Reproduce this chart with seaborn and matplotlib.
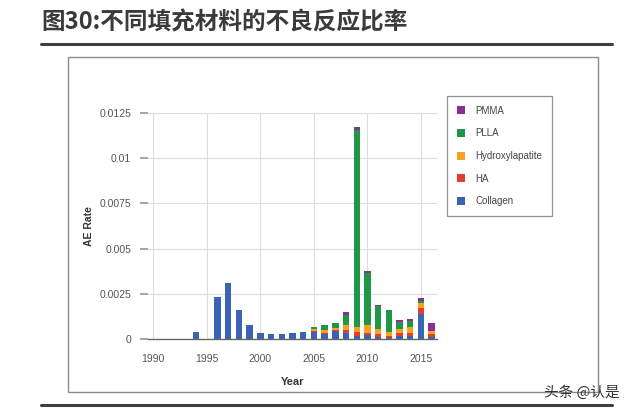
import numpy as np
import pandas as pd
import matplotlib
matplotlib.use("Agg")
import matplotlib.pyplot as plt
import seaborn as sns
from matplotlib.patches import Rectangle, Patch
from matplotlib.lines import Line2D

years = [1994, 1995, 1996, 1997, 1998, 1999, 2000, 2001, 2002, 2003, 2004, 2005,
         2006, 2007, 2008, 2009, 2010, 2011, 2012, 2013, 2014, 2015, 2016]
collagen = [0.00037, 0, 0.0023, 0.0031, 0.0016, 0.0008, 0.00035, 0.0003, 0.0003, 0.00035, 0.0004, 0.0004,
            0.0003, 0.00045, 0.00035, 0.00018, 0.0002, 0.0001, 0.00005, 0.00016, 0.00015, 0.0014, 0.0001]
ha = [0, 0, 0, 0, 0, 0, 0, 0, 0, 0, 0, 0.00005,
      0.00005, 0.00005, 0.00015, 0.00018, 0.00015, 0.00015, 0.0001, 0.00017, 0.00017, 0.0003, 0.0002]
hydroxylapatite = [0, 0, 0, 0, 0, 0, 0, 0, 0, 0, 0, 0.0001,
                   0.00015, 0.0001, 0.00025, 0.00028, 0.0004, 0.00028, 0.00025, 0.00022, 0.00033, 0.0003, 0.00017]
plla = [0, 0, 0, 0, 0, 0, 0, 0, 0, 0, 0, 0.00013,
        0.00027, 0.0003, 0.0006, 0.0109, 0.0029, 0.0013, 0.0012, 0.00039, 0.00033, 0.0001, 0]
pmma = [0, 0, 0, 0, 0, 0, 0, 0, 0, 0, 0, 0,
        0, 0, 0.00013, 0.00016, 0.0001, 0.00004, 0, 0.0001, 0.00015, 0.00015, 0.0004]

materials = ["Collagen", "HA", "Hydroxylapatite", "PLLA", "PMMA"]
colors = {"Collagen": "#3b63b4", "HA": "#e2402c", "Hydroxylapatite": "#f6a21e",
          "PLLA": "#1f9747", "PMMA": "#8b2f96"}
legend_order = ["PMMA", "PLLA", "Hydroxylapatite", "HA", "Collagen"]
xticks = [1990, 1995, 2000, 2005, 2010, 2015]
yticks = [0, 0.0025, 0.005, 0.0075, 0.01, 0.0125]
ytick_labels = ["0", "0.0025", "0.005", "0.0075", "0.01", "0.0125"]
title = "图30:不同填充材料的不良反应比率"

series = {"Collagen": collagen, "HA": ha, "Hydroxylapatite": hydroxylapatite,
          "PLLA": plla, "PMMA": pmma}
df = pd.concat([pd.DataFrame({"Year": years, "Rate": series[m], "Material": m})
                for m in materials], ignore_index=True)

sns.set_theme(style="whitegrid")
plt.rcParams["font.family"] = ["Liberation Sans", "DejaVu Sans"]

fig = plt.figure(figsize=(6.4, 4.12), dpi=100)
ax = fig.add_axes([148/640, 1 - 339/412, (437-148)/640, (339-113)/412])

# stacked bars: cumulative heights drawn from top layer down
cum = np.zeros(len(years))
cums = []
for m in materials:
    cum = cum + np.array(series[m])
    cums.append((m, cum.copy()))
for m, c in reversed(cums):
    sns.histplot(x=years, weights=c, discrete=True, shrink=0.6, ax=ax,
                 color=colors[m], alpha=1, edgecolor="none", linewidth=0)

ax.set_xlim(1989.5, 2016.5)
ax.set_ylim(0, 0.0125)
ax.set_xticks(xticks)
ax.set_xticklabels([str(t) for t in xticks], fontsize=7.5, color="#555555")
ax.set_yticks(yticks)
ax.set_yticklabels(ytick_labels, fontsize=7.5, color="#555555")
ax.grid(True, color="#dddddd", linewidth=0.8)
ax.set_axisbelow(True)
for s in ["top", "right", "left"]:
    ax.spines[s].set_visible(False)
ax.spines["bottom"].set_visible(True)
ax.spines["bottom"].set_color("#666666")
ax.spines["bottom"].set_linewidth(1.0)
ax.tick_params(axis="y", which="both", left=True, length=6, color="#999999", pad=6)
ax.tick_params(axis="x", which="both", bottom=False, pad=5)
ax.set_xlabel("Year", fontsize=8, fontweight="bold", color="#333333", labelpad=9)
ax.set_ylabel("AE Rate", fontsize=7.5, fontweight="bold", color="#333333", labelpad=4)

handles = [Patch(facecolor=colors[m], edgecolor="none") for m in legend_order]
leg = fig.legend(handles, legend_order, loc="upper left",
                 bbox_to_anchor=(447/640, 1 - 96/412), frameon=True,
                 fontsize=7, handlelength=0.9, handleheight=0.9, handletextpad=1.0,
                 labelspacing=1.3, borderpad=1.0, fancybox=False,
                 labelcolor="#444444", borderaxespad=0)
leg.get_frame().set_edgecolor("#777777")
leg.get_frame().set_linewidth(0.9)

# title and decorations
fig.text(41/640, 1 - 22/412, title, fontsize=17, fontweight="bold", color="#3a3a3a",
         va="center", ha="left", family=["Noto Sans CJK SC", "DejaVu Sans"])
fig.add_artist(Line2D([41/640, 612/640], [1 - 44/412, 1 - 44/412], color="#3f3f3f",
                      linewidth=2.2, transform=fig.transFigure))
fig.add_artist(Line2D([41/640, 612/640], [1 - 405/412, 1 - 405/412], color="#3f3f3f",
                      linewidth=2.2, transform=fig.transFigure))
fig.add_artist(Rectangle((68/640, 1 - 392/412), (598-68)/640, (392-57)/412,
                         transform=fig.transFigure, fill=False, edgecolor="#8a8a8a",
                         linewidth=1.0))
fig.text(620/640, 1 - 393/412, "头条 @认是", fontsize=10.5, color="#333333",
         ha="right", va="center", family=["Noto Sans CJK SC", "DejaVu Sans"])

fig.savefig("out.png", dpi=100)
